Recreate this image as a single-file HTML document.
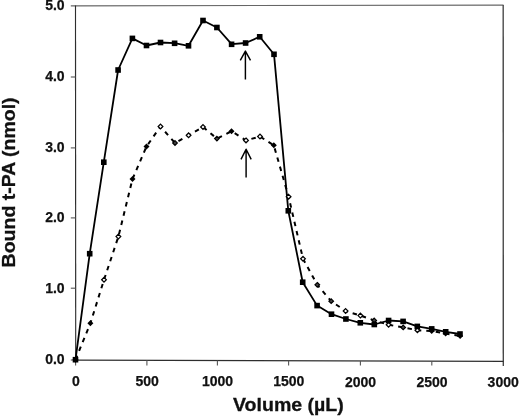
<!DOCTYPE html>
<html><head><meta charset="utf-8"><style>
html,body{margin:0;padding:0;background:#fff;}
body{width:520px;height:417px;overflow:hidden;font-family:"Liberation Sans", sans-serif;}
svg{display:block;} svg{will-change:transform}
</style></head><body>
<svg width="520" height="417" viewBox="0 0 520 417">
<g stroke="#555" stroke-width="1.1" fill="none">
<line x1="70.8" y1="5.9" x2="503.5" y2="5.1" stroke="#666"/>
<line x1="503.2" y1="5.1" x2="503.3" y2="366" stroke="#484848" stroke-width="1.4"/>
</g>
<g stroke="#2e2e2e" stroke-width="1.15" fill="none">
<line x1="75.5" y1="5.4" x2="75.7" y2="360.5"/>
<line x1="75" y1="360.10" x2="503.5" y2="361.30"/>
</g>
<g stroke="#555" stroke-width="1.1" fill="none">
<line x1="70.8" y1="77.0" x2="75.6" y2="77.0"/>
<line x1="70.8" y1="147.9" x2="75.6" y2="147.9"/>
<line x1="70.8" y1="217.9" x2="75.6" y2="217.9"/>
<line x1="70.8" y1="288.2" x2="75.6" y2="288.2"/>
<line x1="70.8" y1="360.0" x2="75.6" y2="360.0"/>
<line x1="75.6" y1="360.10" x2="75.6" y2="365.5"/>
<line x1="146.9" y1="360.30" x2="146.9" y2="365.5"/>
<line x1="217.4" y1="360.50" x2="217.4" y2="365.5"/>
<line x1="288.6" y1="360.70" x2="288.6" y2="365.5"/>
<line x1="360.4" y1="360.90" x2="360.4" y2="365.5"/>
<line x1="431.8" y1="361.10" x2="431.8" y2="365.5"/>
</g>
<polyline points="75.5,359.7 90.4,323.3 104.0,279.8 118.4,236.6 132.5,179.0 146.5,146.5 160.5,126.5 175.0,143.0 188.6,135.3 203.0,127.0 216.9,138.6 231.5,131.2 246.0,140.4 260.0,136.5 273.8,145.3 288.6,196.7 303.0,258.8 317.3,284.8 331.2,301.2 345.6,311.0 360.4,315.6 374.2,320.4 388.6,324.8 403.2,327.4 417.4,330.2 431.7,331.0 445.6,333.5 460.1,336.0" fill="none" stroke="#000" stroke-width="2" stroke-dasharray="4.5,5" stroke-dashoffset="0" stroke-linejoin="round"/>
<polyline points="75.5,359.7 89.7,253.8 103.8,162.2 118.1,70.0 132.4,38.4 146.5,45.5 160.5,42.5 174.6,43.2 188.5,45.8 203.0,20.5 216.9,27.5 231.6,44.2 245.6,43.0 259.7,36.8 274.0,54.2 288.3,210.8 302.7,282.2 317.1,305.6 331.5,314.2 345.9,319.0 360.3,322.8 374.3,324.5 388.6,320.5 403.1,321.4 417.3,326.4 431.7,328.9 445.7,331.8 460.0,334.0" fill="none" stroke="#000" stroke-width="1.8" stroke-linejoin="round"/>
<path d="M75.50,356.70 L78.50,359.70 L75.50,362.70 L72.50,359.70 Z" fill="#000"/>
<path d="M90.40,320.30 L93.40,323.30 L90.40,326.30 L87.40,323.30 Z" fill="#000"/>
<path d="M104.00,277.40 L106.35,279.75 L104.00,282.10 L101.65,279.75 Z" fill="#fff" stroke="#000" stroke-width="1.25"/>
<path d="M118.40,234.25 L120.75,236.60 L118.40,238.95 L116.05,236.60 Z" fill="#fff" stroke="#000" stroke-width="1.25"/>
<path d="M132.50,176.00 L135.50,179.00 L132.50,182.00 L129.50,179.00 Z" fill="#000"/>
<path d="M146.50,143.50 L149.50,146.50 L146.50,149.50 L143.50,146.50 Z" fill="#000"/>
<path d="M160.50,124.15 L162.85,126.50 L160.50,128.85 L158.15,126.50 Z" fill="#fff" stroke="#000" stroke-width="1.25"/>
<path d="M175.00,140.70 L177.30,143.00 L175.00,145.30 L172.70,143.00 Z" fill="#444" stroke="#000" stroke-width="1.2"/>
<path d="M188.60,132.95 L190.95,135.30 L188.60,137.65 L186.25,135.30 Z" fill="#fff" stroke="#000" stroke-width="1.25"/>
<path d="M203.00,124.65 L205.35,127.00 L203.00,129.35 L200.65,127.00 Z" fill="#fff" stroke="#000" stroke-width="1.25"/>
<path d="M216.90,136.30 L219.20,138.60 L216.90,140.90 L214.60,138.60 Z" fill="#444" stroke="#000" stroke-width="1.2"/>
<path d="M231.50,128.20 L234.50,131.20 L231.50,134.20 L228.50,131.20 Z" fill="#000"/>
<path d="M246.00,138.05 L248.35,140.40 L246.00,142.75 L243.65,140.40 Z" fill="#fff" stroke="#000" stroke-width="1.25"/>
<path d="M260.00,134.15 L262.35,136.50 L260.00,138.85 L257.65,136.50 Z" fill="#fff" stroke="#000" stroke-width="1.25"/>
<path d="M273.80,142.30 L276.80,145.30 L273.80,148.30 L270.80,145.30 Z" fill="#000"/>
<path d="M288.60,194.35 L290.95,196.70 L288.60,199.05 L286.25,196.70 Z" fill="#fff" stroke="#000" stroke-width="1.25"/>
<path d="M303.00,256.45 L305.35,258.80 L303.00,261.15 L300.65,258.80 Z" fill="#fff" stroke="#000" stroke-width="1.25"/>
<path d="M317.30,282.50 L319.60,284.80 L317.30,287.10 L315.00,284.80 Z" fill="#444" stroke="#000" stroke-width="1.2"/>
<path d="M331.20,298.90 L333.50,301.20 L331.20,303.50 L328.90,301.20 Z" fill="#444" stroke="#000" stroke-width="1.2"/>
<path d="M345.60,308.65 L347.95,311.00 L345.60,313.35 L343.25,311.00 Z" fill="#fff" stroke="#000" stroke-width="1.25"/>
<path d="M360.40,313.25 L362.75,315.60 L360.40,317.95 L358.05,315.60 Z" fill="#fff" stroke="#000" stroke-width="1.25"/>
<path d="M374.20,318.10 L376.50,320.40 L374.20,322.70 L371.90,320.40 Z" fill="#444" stroke="#000" stroke-width="1.2"/>
<path d="M388.60,322.45 L390.95,324.80 L388.60,327.15 L386.25,324.80 Z" fill="#fff" stroke="#000" stroke-width="1.25"/>
<path d="M403.20,325.10 L405.50,327.40 L403.20,329.70 L400.90,327.40 Z" fill="#444" stroke="#000" stroke-width="1.2"/>
<path d="M417.40,327.85 L419.75,330.20 L417.40,332.55 L415.05,330.20 Z" fill="#fff" stroke="#000" stroke-width="1.25"/>
<path d="M431.70,328.00 L434.70,331.00 L431.70,334.00 L428.70,331.00 Z" fill="#000"/>
<path d="M445.60,330.50 L448.60,333.50 L445.60,336.50 L442.60,333.50 Z" fill="#000"/>
<path d="M460.10,333.00 L463.10,336.00 L460.10,339.00 L457.10,336.00 Z" fill="#000"/>
<rect x="72.7" y="356.9" width="5.6" height="5.6" fill="#000"/>
<rect x="86.9" y="250.9" width="5.6" height="5.6" fill="#000"/>
<rect x="101.0" y="159.4" width="5.6" height="5.6" fill="#000"/>
<rect x="115.3" y="67.2" width="5.6" height="5.6" fill="#000"/>
<rect x="129.6" y="35.6" width="5.6" height="5.6" fill="#000"/>
<rect x="143.7" y="42.7" width="5.6" height="5.6" fill="#000"/>
<rect x="157.7" y="39.7" width="5.6" height="5.6" fill="#000"/>
<rect x="171.8" y="40.5" width="5.6" height="5.6" fill="#000"/>
<rect x="185.7" y="43.0" width="5.6" height="5.6" fill="#000"/>
<rect x="200.2" y="17.7" width="5.6" height="5.6" fill="#000"/>
<rect x="214.1" y="24.7" width="5.6" height="5.6" fill="#000"/>
<rect x="228.8" y="41.5" width="5.6" height="5.6" fill="#000"/>
<rect x="242.8" y="40.2" width="5.6" height="5.6" fill="#000"/>
<rect x="256.9" y="34.0" width="5.6" height="5.6" fill="#000"/>
<rect x="271.2" y="51.5" width="5.6" height="5.6" fill="#000"/>
<rect x="285.5" y="208.0" width="5.6" height="5.6" fill="#000"/>
<rect x="299.9" y="279.4" width="5.6" height="5.6" fill="#000"/>
<rect x="314.3" y="302.8" width="5.6" height="5.6" fill="#000"/>
<rect x="328.7" y="311.4" width="5.6" height="5.6" fill="#000"/>
<rect x="343.1" y="316.2" width="5.6" height="5.6" fill="#000"/>
<rect x="357.5" y="320.0" width="5.6" height="5.6" fill="#000"/>
<rect x="371.5" y="321.7" width="5.6" height="5.6" fill="#000"/>
<rect x="385.8" y="317.7" width="5.6" height="5.6" fill="#000"/>
<rect x="400.3" y="318.6" width="5.6" height="5.6" fill="#000"/>
<rect x="414.5" y="323.6" width="5.6" height="5.6" fill="#000"/>
<rect x="428.9" y="326.1" width="5.6" height="5.6" fill="#000"/>
<rect x="442.9" y="329.0" width="5.6" height="5.6" fill="#000"/>
<rect x="457.2" y="331.2" width="5.6" height="5.6" fill="#000"/>
<path d="M245.4,79.5 L245.4,52.099999999999994 M240.3,60.3 L245.4,51.099999999999994 L250.5,60.3" fill="none" stroke="#000" stroke-width="1.45" stroke-linejoin="round"/>
<path d="M246.1,177.5 L246.1,150.20000000000002 M241.0,159.4 L246.1,149.20000000000002 L251.2,159.4" fill="none" stroke="#000" stroke-width="1.45" stroke-linejoin="round"/>
<g font-family="Liberation Sans, sans-serif" font-weight="bold" font-size="14" fill="#111" stroke="#111" stroke-width="0.25">
<text x="64.6" y="10.3" text-anchor="end">5.0</text>
<text x="64.6" y="81.4" text-anchor="end">4.0</text>
<text x="64.6" y="152.3" text-anchor="end">3.0</text>
<text x="64.6" y="222.3" text-anchor="end">2.0</text>
<text x="64.6" y="292.6" text-anchor="end">1.0</text>
<text x="64.6" y="364.4" text-anchor="end">0.0</text>
<text x="75.8" y="385.90" text-anchor="middle">0</text>
<text x="147.1" y="386.08" text-anchor="middle">500</text>
<text x="217.6" y="386.26" text-anchor="middle">1000</text>
<text x="288.8" y="386.45" text-anchor="middle">1500</text>
<text x="360.6" y="386.63" text-anchor="middle">2000</text>
<text x="432.0" y="386.82" text-anchor="middle">2500</text>
<text x="503.2" y="387.00" text-anchor="middle">3000</text>
</g>
<text transform="translate(288.4,411.4) scale(1.03,1)" x="0" y="0" text-anchor="middle" font-family="Liberation Sans, sans-serif" font-weight="bold" font-size="19" fill="#111" stroke="#111" stroke-width="0.3">Volume (µL)</text>
<text transform="translate(15.2,182.4) rotate(-90) scale(1.055,1)" x="0" y="0" text-anchor="middle" font-family="Liberation Sans, sans-serif" font-weight="bold" font-size="18.5" fill="#111" stroke="#111" stroke-width="0.3">Bound t-PA (nmol)</text>
</svg>
</body></html>
